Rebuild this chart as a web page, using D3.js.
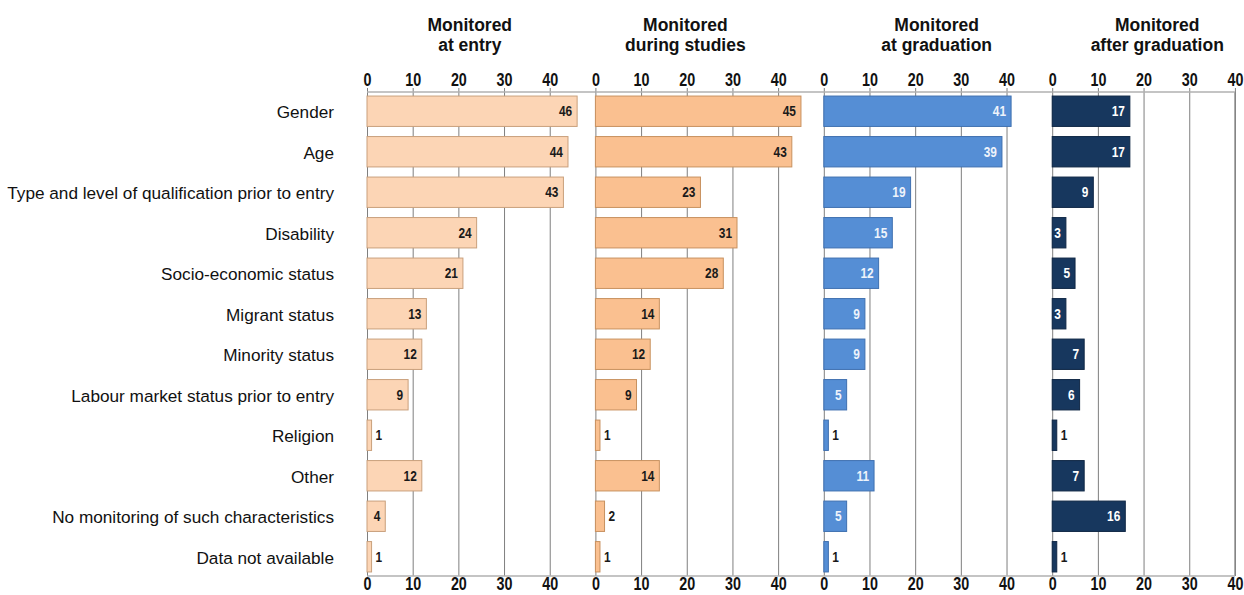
<!DOCTYPE html>
<html>
<head>
<meta charset="utf-8">
<script src="https://d3js.org/d3.v7.min.js"></script>
<style>
    body { margin: 0; background: #fff; }
</style>
</head>
<body>
<script>
    // ---- data ----
    var categories = [
        "Gender", "Age", "Type and level of qualification prior to entry", "Disability",
        "Socio-economic status", "Migrant status", "Minority status",
        "Labour market status prior to entry", "Religion", "Other",
        "No monitoring of such characteristics", "Data not available"
    ];
    var panelTitles = [
        ["Monitored", "at entry"],
        ["Monitored", "during studies"],
        ["Monitored", "at graduation"],
        ["Monitored", "after graduation"]
    ];
    var atEntry         = [46, 44, 43, 24, 21, 13, 12, 9, 1, 12, 4, 1];
    var duringStudies   = [45, 43, 23, 31, 28, 14, 12, 9, 1, 14, 2, 1];
    var atGraduation    = [41, 39, 19, 15, 12, 9, 9, 5, 1, 11, 5, 1];
    var afterGraduation = [17, 17, 9, 3, 5, 3, 7, 6, 1, 7, 16, 1];
    var tickValues = [0, 10, 20, 30, 40];

    var series = [atEntry, duringStudies, atGraduation, afterGraduation];

    // ---- layout ----
    var W = 1244, H = 595,
        plotTop = 92, plotBottom = 576,
        firstLeft = 367, panelW = 228.4,
        labelRight = 334,
        squeeze = 0.82;   // no narrow font installed, so squash the numbers a bit

    var fills   = ["#fcd5b5", "#fac090", "#558ed5", "#17375e"],
        strokes = ["#c9a07c", "#c8915f", "#3f70b0", "#0f2745"],
        inText  = ["#1a1a1a", "#1a1a1a", "#eef3fb", "#ffffff"],
        titleAt = [22.5, 19.7, 24.7, 23];

    var sans = "'Liberation Sans', Arial, sans-serif";

    var svg = d3.select("body").append("svg")
        .attr("width", W).attr("height", H);

    var y = d3.scaleBand()
        .domain(categories)
        .range([plotTop, plotBottom])
        .paddingInner(0.25)
        .paddingOuter(0.1);

    function mid(j) { return y(categories[j]) + y.bandwidth() / 2; }

    // row labels
    svg.append("g").selectAll("text")
        .data(categories)
        .enter().append("text")
        .attr("x", labelRight)
        .attr("y", function (d, j) { return mid(j) + 1; })
        .attr("dy", "0.36em")
        .attr("text-anchor", "end")
        .style("font-family", sans)
        .style("font-size", "17.2px")
        .style("fill", "#111")
        .text(function (d) { return d; });

    series.forEach(function (vals, i) {
        var last = i === series.length - 1;
        var x = d3.scaleLinear()
            .domain([0, 50])
            .range([firstLeft + i * panelW, firstLeft + (i + 1) * panelW]);

        var p = svg.append("g").attr("class", "panel");

        // grid + top tick labels
        var grid = p.append("g")
            .attr("transform", "translate(0," + plotTop + ")")
            .call(d3.axisTop(x).tickValues(tickValues)
                .tickSizeInner(-(plotBottom - plotTop))
                .tickSizeOuter(0)
                .tickPadding(6));
        grid.select(".domain").remove();
        grid.selectAll(".tick line")
            .attr("y1", -4)
            .attr("stroke", "#7f7f7f")
            .attr("stroke-width", 1);

        // bottom tick labels (kept just inside the bottom edge)
        var bottom = p.append("g")
            .attr("transform", "translate(0," + plotBottom + ")")
            .call(d3.axisBottom(x).tickValues(tickValues).tickSize(0).tickPadding(2));
        bottom.select(".domain").remove();

        [grid, bottom].forEach(function (ax) {
            ax.selectAll(".tick text")
                .attr("transform", "scale(" + squeeze + ",1)")
                .style("font-family", sans)
                .style("font-size", "17.5px")
                .style("font-weight", "bold")
                .attr("fill", "#111");
        });

        // right frame on the last panel
        if (last) {
            p.append("line")
                .attr("x1", x(40)).attr("x2", x(40))
                .attr("y1", plotTop).attr("y2", plotBottom)
                .attr("stroke", "#7f7f7f");
        }

        // top and bottom rules
        [plotTop, plotBottom].forEach(function (yy) {
            p.append("line")
                .attr("x1", x(0)).attr("x2", last ? x(40) : x(50))
                .attr("y1", yy).attr("y2", yy)
                .attr("stroke", "#b0b0b0")
                .attr("stroke-width", 1.5);
        });

        // bars
        p.append("g").selectAll("rect")
            .data(vals)
            .enter().append("rect")
            .attr("x", x(0))
            .attr("y", function (d, j) { return y(categories[j]); })
            .attr("width", function (d) { return x(d) - x(0); })
            .attr("height", y.bandwidth())
            .attr("fill", fills[i])
            .attr("stroke", strokes[i])
            .attr("stroke-width", 1);

        // value labels: inside for wider bars, outside for tiny ones
        p.append("g").selectAll("text")
            .data(vals)
            .enter().append("text")
            .attr("transform", function (d, j) {
                var tx = d > 2 ? x(d) - 5 : x(d) + 4;
                return "translate(" + tx + "," + mid(j) + ") scale(" + squeeze + ",1)";
            })
            .attr("dy", "0.36em")
            .attr("text-anchor", function (d) { return d > 2 ? "end" : "start"; })
            .style("font-family", sans)
            .style("font-size", "14.5px")
            .style("font-weight", "bold")
            .attr("fill", function (d) { return d > 2 ? inText[i] : "#1a1a1a"; })
            .text(function (d) { return d; });

        // panel title
        var t = p.append("text")
            .attr("text-anchor", "middle")
            .style("font-family", sans)
            .style("font-size", "17.5px")
            .style("font-weight", "bold")
            .attr("fill", "#111");
        t.append("tspan").attr("x", x(titleAt[i])).attr("y", 31).text(panelTitles[i][0]);
        t.append("tspan").attr("x", x(titleAt[i])).attr("y", 51).text(panelTitles[i][1]);
    });
</script>
</body>
</html>
